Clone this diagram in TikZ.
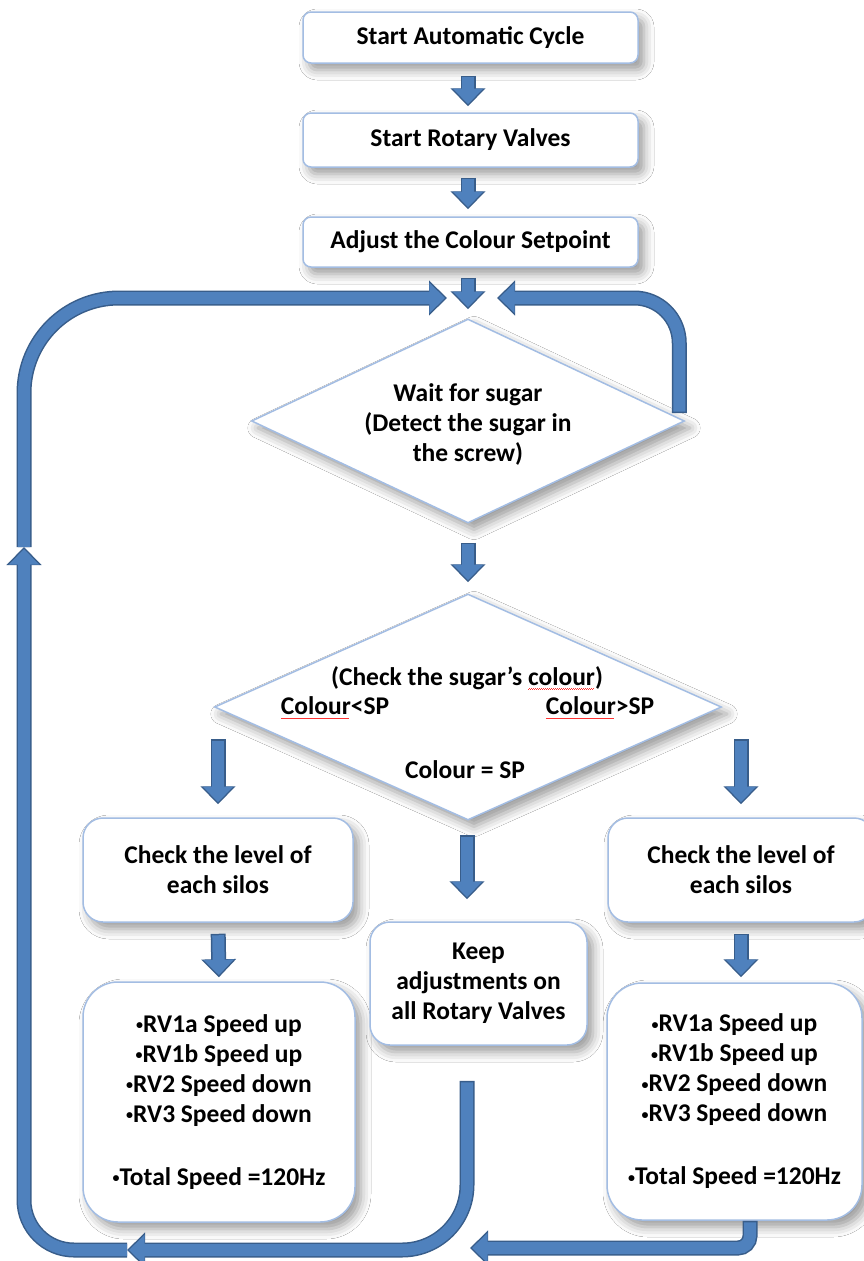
\documentclass[tikz,border=0pt]{standalone}
\usepackage{fontspec}
\setmainfont{Carlito}
\usetikzlibrary{arrows.meta,shapes.geometric,shadows.blur,calc}
\definecolor{arrfill}{HTML}{4F81BD}
\definecolor{arrdark}{HTML}{385D8A}
\definecolor{boxline}{HTML}{A3BDE3}
\newcommand\spellwave[1]{\leavevmode\setbox0\hbox{#1}%
  \rlap{\color{red!80}\raisebox{-4pt}{\hbox to \wd0{\leaders\hbox to 2pt{\rule[0pt]{1pt}{0.7pt}\rule[0.7pt]{1pt}{0.7pt}}\hfill}}}\box0}
\newcommand\bul{\raisebox{2.5pt}{\fontsize{14}{14}\selectfont •}}
\begin{document}
\begin{tikzpicture}[x=1pt,y=-1pt,
  every node/.style={font=\bfseries\fontsize{25.5}{30}\selectfont, align=center, text=black},
  shade/.style={blur shadow={shadow xshift=6pt,shadow yshift=-7pt,shadow blur radius=10pt,shadow opacity=40}},
  rbox/.style={draw=boxline, line width=1.5pt, fill=white, rounded corners=#1, inner sep=0pt, shade},
  dia/.style={draw=boxline, line width=1.5pt, fill=white, diamond, inner sep=0pt, shade},
  lbl/.style={inner sep=0pt},
  blk/.style 2 args={draw=arrdark, line width=15pt, -{Triangle[width=34pt,length=18pt]},
     shorten <=#1, shorten >=#2,
     postaction={draw=arrfill, line width=12pt, -{Triangle[width=29.5pt,length=15.5pt]},
       shorten <=#1+1.5pt, shorten >=#2+2.1pt}},
  blkc/.style={draw=arrdark, line width=15pt, -{Triangle[width=34pt,length=18pt]},
     shorten <=0pt, shorten >=#1,
     postaction={draw=arrfill, line width=12pt, -{Triangle[width=29.5pt,length=15.5pt]},
       shorten <=0pt, shorten >=#1+2.1pt}},
]
\fill[white] (0,0) rectangle (864,1261);
\useasboundingbox (0,0) rectangle (864,1261);

% boxes
\node[rbox=8pt, minimum width=335pt, minimum height=51pt] (b1) at (470.5,37.5) {Start Automatic Cycle};
\node[rbox=8pt, minimum width=335pt, minimum height=54pt] (b2) at (470.5,140) {Start Rotary Valves};
\node[rbox=8pt, minimum width=335pt, minimum height=50pt] (b3) at (470.5,242) {Adjust the Colour Setpoint};

\node[dia, aspect=2.12, minimum width=433pt, minimum height=204pt] (d1) at (468,421) {};
\node[lbl] (t1) at (468,424) {Wait for sugar\\(Detect the sugar in\\the screw)};

\node[dia, aspect=2.24, minimum width=507pt, minimum height=226pt] (d2) at (468,707) {};
\node[lbl] (q) at (467,678) {(Check the sugar’s \spellwave{colour})};
\node[lbl] (lt) at (335,708) {\spellwave{Colour}<SP};
\node[lbl] (gt) at (600,708) {\spellwave{Colour}>SP};
\node[lbl] (eq) at (465,770) {Colour = SP};

\node[rbox=20pt, minimum width=270pt, minimum height=104pt] (ls1) at (218,870) {Check the level of\\each silos};
\node[rbox=35pt, minimum width=272pt, minimum height=240pt] (ls2) at (219,1102)
  {\bul RV1a Speed up\\\bul RV1b Speed up\\\bul RV2 Speed down\\\bul RV3 Speed down\\[33pt]\bul Total Speed =120Hz};
\node[rbox=20pt, minimum width=266pt, minimum height=104pt] (rs1) at (741,870) {Check the level of\\each silos};
\node[rbox=35pt, minimum width=255pt, minimum height=237pt] (rs2) at (734.5,1101.5)
  {\bul RV1a Speed up\\\bul RV1b Speed up\\\bul RV2 Speed down\\\bul RV3 Speed down\\[33pt]\bul Total Speed =120Hz};
\node[rbox=20pt, minimum width=217pt, minimum height=123pt] (keep) at (478.5,983.5) {Keep\\adjustments on\\all Rotary Valves};

% helper coordinates
\coordinate (m) at (468,298);
\coordinate (bl) at (24,1250);
\coordinate (lu) at (24,547);
\coordinate (bt) at (127,1250);
\coordinate (mc) at (467,1250);
\coordinate (rb) at (750,1248);
\coordinate (rt) at (470,1248);

% straight arrows
\draw[blk={12pt}{6pt}] (b1.south -| m) -- (b2.north -| m);
\draw[blk={10pt}{7pt}] (b2.south -| m) -- (b3.north -| m);
\draw[blk={10pt}{9pt}] (b3.south -| m) -- (d1.north);
\draw[blk={19pt}{11pt}] (d1.south) -- (d2.north);
\draw[blk={20pt}{13pt}] (lt.south -| ls1.north) -- (ls1.north);
\draw[blk={20pt}{13pt}] (gt.south -| rs1.north) -- (rs1.north);
\draw[blk={56pt}{22pt}] (eq.south -| mc) -- (mc |- keep.north);
\draw[blk={11pt}{4pt}] (ls1.south) -- (ls2.north);
\draw[blk={11pt}{5pt}] (rs1.south) -- (rs1.south |- rs2.north);

% loops
\draw[blk={0pt}{29pt}, rounded corners=45pt] ($(d1.east)+(-6,-8)$) |- (m);
\draw[blk={35pt}{0pt}, rounded corners=65pt] (mc |- keep.south) -- (mc) -- (bt);
\draw[blkc={0pt}, rounded corners=50pt] (bt) -- (bl) -- (lu);
\draw[blkc={21pt}, rounded corners=95pt] (lu) -- (lu |- m) -- (m);
\draw[blk={0pt}{0pt}, rounded corners=12pt] (rb |- rs2.south) -- (rb) -- (rt);
\end{tikzpicture}
\end{document}
